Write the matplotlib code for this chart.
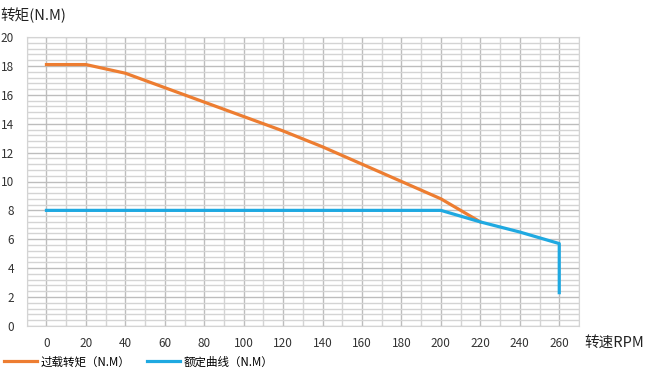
import matplotlib
matplotlib.use('Agg')
import matplotlib.pyplot as plt
import numpy as np

plt.rcParams['font.family'] = ['Noto Sans CJK SC', 'DejaVu Sans']

# overload torque curve
overload_rpm = [0, 20, 40, 60, 80, 100, 120, 140, 160, 180, 200, 220]
overload_torque = [18.1, 18.1, 17.5, 16.5, 15.5, 14.5, 13.5, 12.4, 11.2, 10.0, 8.8, 7.2]

# rated curve
rated_rpm = [0, 200, 220, 240, 260, 260]
rated_torque = [8.0, 8.0, 7.2, 6.5, 5.7, 2.3]

x_ticks = list(range(0, 261, 20))
y_ticks = list(range(0, 21, 2))

label_overload = '过载转矩（N.M）'
label_rated = '额定曲线（N.M）'

fig = plt.figure(figsize=(6.52, 3.75), dpi=100)
ax = fig.add_axes([0.041, 0.131, 0.847, 0.770])

# grid: fine lines, slightly darker major lines
for xv in np.arange(-10, 271, 10):
    c = '#bdbdbd' if xv % 20 == 0 else '#d4d4d4'
    ax.axvline(xv, color=c, lw=1.0, zorder=0)
for yv in np.arange(0, 20.01, 0.4):
    c = '#bdbdbd' if abs(yv / 2 - round(yv / 2)) < 1e-6 else '#d4d4d4'
    ax.axhline(yv, color=c, lw=1.0, zorder=0)

ax.plot(overload_rpm, overload_torque, color='#ED7D31', lw=2.3, label=label_overload, zorder=3)
ax.plot(rated_rpm, rated_torque, color='#1FA9E1', lw=2.3, label=label_rated, zorder=4)

ax.set_xlim(-10, 270)
ax.set_ylim(0, 20)
ax.set_xticks(x_ticks)
ax.set_yticks(y_ticks)
ax.tick_params(length=0, labelsize=8.5, colors='#333333', pad=8)
ax.tick_params(axis='y', pad=9)
for s in ax.spines.values():
    s.set_color('#d4d4d4')

fig.text(0.0, 0.958, '转矩(N.M)', fontsize=10.5, color='#222222', va='center', ha='left')
fig.text(0.897, 0.087, '转速RPM', fontsize=10.5, color='#222222', va='center', ha='left')

handles, labels = ax.get_legend_handles_labels()
fig.legend(handles, labels, loc='center left', bbox_to_anchor=(-0.01, 0.035), ncol=2,
           frameon=False, fontsize=8.3, handlelength=2.9, handletextpad=0.3,
           columnspacing=1.4)

fig.savefig('out.png', dpi=100)
